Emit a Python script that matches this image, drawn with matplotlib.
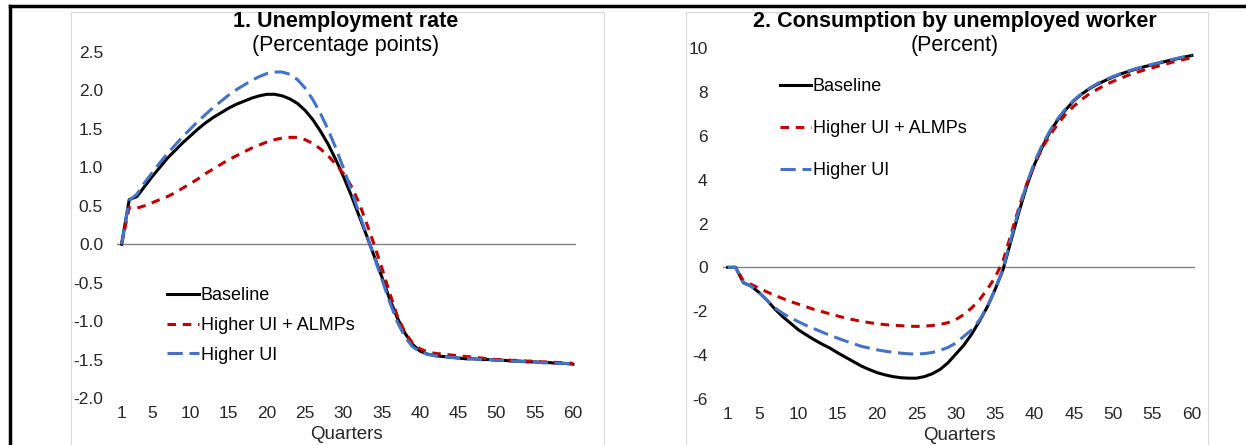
import matplotlib.pyplot as plt
from matplotlib.patches import Rectangle
from matplotlib.lines import Line2D
import numpy as np

plt.rcParams['font.family'] = ['Liberation Sans', 'DejaVu Sans']
plt.rcParams['axes.unicode_minus'] = False

quarters = list(range(1, 61))

# panel 1: unemployment rate (percentage points)
unemp_baseline = [0.00, 0.58, 0.62, 0.75, 0.88, 1.00, 1.12, 1.22, 1.32, 1.41,
                  1.50, 1.58, 1.65, 1.71, 1.77, 1.82, 1.86, 1.90, 1.93, 1.95,
                  1.95, 1.93, 1.89, 1.83, 1.74, 1.62, 1.47, 1.30, 1.10, 0.88,
                  0.64, 0.38, 0.12, -0.15, -0.42, -0.70, -0.95, -1.15, -1.30, -1.39,
                  -1.43, -1.45, -1.46, -1.47, -1.48, -1.49, -1.49, -1.50, -1.50, -1.51,
                  -1.51, -1.52, -1.52, -1.53, -1.53, -1.54, -1.54, -1.55, -1.55, -1.56]
unemp_almp = [0.00, 0.48, 0.47, 0.50, 0.54, 0.58, 0.62, 0.67, 0.73, 0.79,
              0.85, 0.92, 0.98, 1.04, 1.10, 1.15, 1.20, 1.25, 1.29, 1.33,
              1.36, 1.38, 1.39, 1.39, 1.36, 1.31, 1.24, 1.15, 1.04, 0.92,
              0.76, 0.55, 0.28, 0.00, -0.30, -0.62, -0.92, -1.14, -1.28, -1.36,
              -1.40, -1.42, -1.43, -1.44, -1.45, -1.46, -1.47, -1.48, -1.49, -1.50,
              -1.50, -1.51, -1.51, -1.52, -1.52, -1.53, -1.53, -1.54, -1.54, -1.55]
unemp_ui = [0.00, 0.57, 0.65, 0.80, 0.93, 1.06, 1.18, 1.29, 1.40, 1.50,
            1.60, 1.69, 1.78, 1.86, 1.94, 2.01, 2.07, 2.13, 2.18, 2.22,
            2.24, 2.24, 2.21, 2.14, 2.03, 1.88, 1.70, 1.49, 1.25, 0.99,
            0.71, 0.42, 0.13, -0.16, -0.45, -0.74, -1.00, -1.20, -1.33, -1.40,
            -1.43, -1.45, -1.46, -1.47, -1.48, -1.49, -1.49, -1.50, -1.50, -1.51,
            -1.51, -1.52, -1.52, -1.53, -1.53, -1.54, -1.54, -1.55, -1.55, -1.56]

# panel 2: consumption by unemployed worker (percent)
cons_baseline = [0.00, 0.00, -0.70, -0.86, -1.15, -1.50, -1.90, -2.25, -2.55, -2.85,
                 -3.08, -3.30, -3.50, -3.68, -3.90, -4.10, -4.30, -4.50, -4.66, -4.80,
                 -4.90, -4.98, -5.03, -5.05, -5.05, -4.98, -4.85, -4.65, -4.35, -3.95,
                 -3.55, -3.05, -2.45, -1.80, -1.00, -0.10, 1.20, 2.50, 3.70, 4.70,
                 5.50, 6.20, 6.75, 7.20, 7.60, 7.90, 8.15, 8.35, 8.52, 8.68,
                 8.82, 8.94, 9.05, 9.15, 9.24, 9.33, 9.42, 9.50, 9.58, 9.66]
cons_almp = [0.00, 0.00, -0.62, -0.78, -0.95, -1.12, -1.28, -1.42, -1.56, -1.68,
             -1.80, -1.92, -2.02, -2.12, -2.22, -2.31, -2.39, -2.46, -2.52, -2.57,
             -2.61, -2.64, -2.66, -2.68, -2.69, -2.68, -2.65, -2.60, -2.52, -2.38,
             -2.15, -1.85, -1.48, -1.00, -0.45, 0.30, 1.50, 2.70, 3.80, 4.70,
             5.45, 6.05, 6.55, 7.00, 7.35, 7.65, 7.92, 8.12, 8.32, 8.48,
             8.63, 8.77, 8.89, 9.00, 9.10, 9.20, 9.30, 9.40, 9.48, 9.56]
cons_ui = [0.00, 0.00, -0.70, -0.86, -1.15, -1.50, -1.85, -2.10, -2.30, -2.48,
           -2.65, -2.80, -2.95, -3.10, -3.23, -3.36, -3.48, -3.60, -3.68, -3.76,
           -3.82, -3.87, -3.91, -3.94, -3.95, -3.93, -3.88, -3.78, -3.65, -3.45,
           -3.15, -2.85, -2.40, -1.80, -1.00, -0.05, 1.30, 2.60, 3.80, 4.80,
           5.60, 6.25, 6.80, 7.25, 7.62, 7.92, 8.17, 8.38, 8.55, 8.70,
           8.84, 8.96, 9.07, 9.17, 9.26, 9.35, 9.44, 9.52, 9.60, 9.68]

xtick_vals = [1, 5, 10, 15, 20, 25, 30, 35, 40, 45, 50, 55, 60]
labels = ['Baseline', 'Higher UI + ALMPs', 'Higher UI']

black = '#000000'
red = '#C00000'
blue = '#4472C4'

fig = plt.figure(figsize=(12.46, 4.45), dpi=100)

# outer frame bits and the light panel boxes
fig.add_artist(Line2D([10/1246, 10/1246], [0, 1 - 6/445], color='black', lw=2.5,
                      transform=fig.transFigure))
fig.add_artist(Line2D([10/1246, 1], [1 - 6/445, 1 - 6/445], color='black', lw=2.5,
                      transform=fig.transFigure))
fig.add_artist(Rectangle((71/1246, -0.05), (604-71)/1246, 1.05 - 12/445, fill=False,
                         edgecolor='#d9d9d9', lw=0.8, transform=fig.transFigure))
fig.add_artist(Rectangle((686/1246, -0.05), (1208-686)/1246, 1.05 - 12/445, fill=False,
                         edgecolor='#d9d9d9', lw=0.8, transform=fig.transFigure))

ax1 = fig.add_axes([117/1246, 1 - 398/445, (576-117)/1246, (398-52)/445])
ax2 = fig.add_axes([723/1246, 1 - 399/445, (1195-723)/1246, (399-48)/445])


def style(ax, ylim, yticks, fmt, ypad):
    ax.axhline(0, color='#808080', lw=1, zorder=1)
    for s in ax.spines.values():
        s.set_visible(False)
    ax.set_xlim(0.4, 60.4)
    ax.set_ylim(*ylim)
    ax.set_yticks(yticks)
    ax.set_yticklabels([fmt % v for v in yticks])
    ax.set_xticks(xtick_vals)
    ax.tick_params(axis='both', length=0, labelsize=12.5, colors='#262626')
    ax.tick_params(axis='y', pad=ypad)
    ax.tick_params(axis='x', pad=6)
    ax.set_xlabel('Quarters', fontsize=13.5, labelpad=3.5, color='#262626')
    ax.patch.set_visible(False)


def draw(ax, base, almp, ui):
    ax.plot(quarters, base, color=black, lw=2.2, label=labels[0], zorder=3)
    ax.plot(quarters, almp, color=red, lw=2.2, dashes=(2.8, 2.2), label=labels[1], zorder=4)
    ax.plot(quarters, ui, color=blue, lw=2.2, dashes=(5, 2.2), label=labels[2], zorder=5)


draw(ax1, unemp_baseline, unemp_almp, unemp_ui)
style(ax1, (-2.0, 2.5), np.arange(-2.0, 2.51, 0.5), '%.1f', 10)
draw(ax2, cons_baseline, cons_almp, cons_ui)
style(ax2, (-6, 10), list(range(-6, 11, 2)), '%d', 11)

ax1.legend(loc='center left', bbox_to_anchor=(0.11, 0.21), frameon=False,
           fontsize=13, handlelength=1.75, handletextpad=0.1, labelspacing=0.71,
           borderpad=0, borderaxespad=0)
ax2.legend(loc='center left', bbox_to_anchor=(0.121, 0.77), frameon=False,
           fontsize=13, handlelength=1.7, handletextpad=0.1, labelspacing=1.38,
           borderpad=0, borderaxespad=0)

fig.text(346/1246, 1 - 22/445, '1. Unemployment rate', ha='center', va='center',
         fontsize=15.5, fontweight='bold')
fig.text(346/1246, 1 - 46/445, '(Percentage points)', ha='center', va='center',
         fontsize=15.5)
fig.text(955/1246, 1 - 22/445, '2. Consumption by unemployed worker', ha='center',
         va='center', fontsize=15.5, fontweight='bold')
fig.text(955/1246, 1 - 46/445, '(Percent)', ha='center', va='center', fontsize=15.5)

fig.savefig('out.png', dpi=100)
